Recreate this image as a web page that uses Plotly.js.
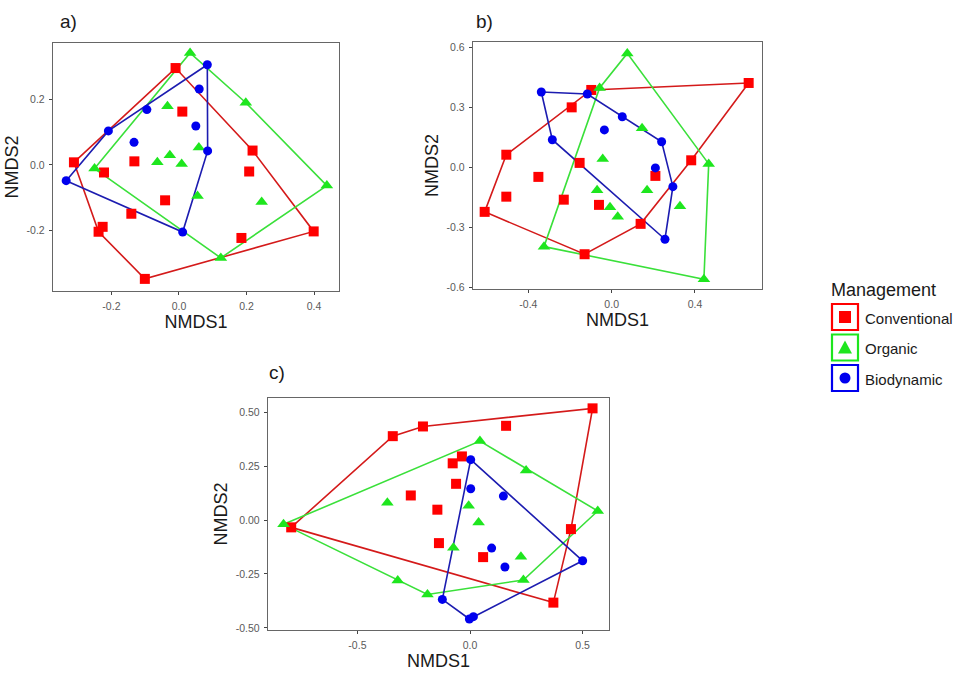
<!DOCTYPE html>
<html>
<head>
<meta charset="utf-8">
<script src="https://cdn.plot.ly/plotly-3.0.1.min.js"></script>
<style>html,body{margin:0;padding:0;background:#fff;}#chart{width:958px;height:673px;}</style>
</head>
<body>
<div id="chart"></div>
<script>
// ---------- Data (NMDS scores) ----------
// Panel a
const aConvX = [-0.010, 0.010, -0.311, -0.222, -0.132, 0.218, 0.208, -0.041, -0.141, -0.226, -0.238, 0.185, 0.399, -0.101];
const aConvY = [0.296, 0.163, 0.008, -0.023, 0.011, 0.044, -0.020, -0.108, -0.149, -0.189, -0.204, -0.223, -0.203, -0.348];
const aOrgX  = [0.033, 0.198, -0.034, 0.059, -0.027, -0.064, 0.008, -0.250, 0.438, 0.055, 0.245, 0.124];
const aOrgY  = [0.342, 0.190, 0.179, 0.053, 0.030, 0.008, 0.003, -0.011, -0.063, -0.095, -0.113, -0.284];
const aBioX  = [0.084, 0.060, -0.095, 0.050, -0.209, -0.133, 0.085, -0.334, 0.011];
const aBioY  = [0.306, 0.232, 0.169, 0.119, 0.104, 0.069, 0.043, -0.048, -0.205];
// Panel b
const bConvX = [0.658, -0.098, -0.192, -0.506, -0.352, -0.506, -0.154, -0.230, -0.061, 0.210, 0.382, -0.610, 0.139, -0.130];
const bConvY = [0.422, 0.387, 0.300, 0.063, -0.048, -0.147, 0.022, -0.162, -0.188, -0.043, 0.035, -0.223, -0.283, -0.435];
const bOrgX  = [0.075, -0.058, 0.146, -0.043, 0.466, -0.070, 0.170, -0.008, 0.029, 0.328, -0.325, 0.443];
const bOrgY  = [0.570, 0.397, 0.195, 0.042, 0.017, -0.115, -0.115, -0.200, -0.248, -0.195, -0.397, -0.560];
const bBioX  = [-0.338, -0.117, 0.051, -0.035, -0.285, 0.240, 0.210, 0.294, 0.256];
const bBioY  = [0.377, 0.367, 0.253, 0.187, 0.138, 0.128, -0.003, -0.097, -0.360];
// Panel c
const cConvX = [0.544, -0.343, -0.209, 0.160, -0.036, -0.077, -0.062, -0.263, -0.145, -0.138, 0.058, -0.794, 0.448, 0.370];
const cConvY = [0.518, 0.389, 0.434, 0.437, 0.295, 0.263, 0.168, 0.114, 0.048, -0.107, -0.172, -0.034, -0.042, -0.383];
const cOrgX  = [0.044, 0.249, -0.367, -0.006, 0.038, -0.828, 0.567, -0.074, 0.226, -0.321, 0.237, -0.189];
const cOrgY  = [0.366, 0.230, 0.080, 0.066, -0.011, -0.020, 0.042, -0.128, -0.170, -0.280, -0.278, -0.345];
const cBioX  = [0.003, 0.003, 0.148, 0.096, 0.155, 0.500, -0.123, -0.003, 0.015];
const cBioY  = [0.280, 0.145, 0.111, -0.130, -0.218, -0.189, -0.368, -0.459, -0.448];

const groups = ["Conventional", "Organic", "Biodynamic"];
const panelLabels = ["a)", "b)", "c)"];
const aXTicks = [-0.2, 0.0, 0.2, 0.4];  const aXText = ["-0.2", "0.0", "0.2", "0.4"];
const aYTicks = [-0.2, 0.0, 0.2];       const aYText = ["-0.2", "0.0", "0.2"];
const bXTicks = [-0.4, 0.0, 0.4];       const bXText = ["-0.4", "0.0", "0.4"];
const bYTicks = [-0.6, -0.3, 0.0, 0.3, 0.6]; const bYText = ["-0.6", "-0.3", "0.0", "0.3", "0.6"];
const cXTicks = [-0.5, 0.0, 0.5];       const cXText = ["-0.5", "0.0", "0.5"];
const cYTicks = [-0.5, -0.25, 0.0, 0.25, 0.5]; const cYText = ["-0.50", "-0.25", "0.00", "0.25", "0.50"];

// ---------- Styles ----------
const W = 958, H = 673;
const markerCol = {Conventional: "#ff0000", Organic: "#1ee61e", Biodynamic: "#0000ee"};
const lineCol   = {Conventional: "#d41a1a", Organic: "#3ae03a", Biodynamic: "#1c1cb0"};
const symbol    = {Conventional: "square", Organic: "triangle-up", Biodynamic: "circle"};
const msize     = {Conventional: 10, Organic: 11, Biodynamic: 9};

function convexHull(xs, ys) {
  const pts = xs.map((x, i) => [x, ys[i]]).sort((p, q) => p[0] - q[0] || p[1] - q[1]);
  const cross = (o, a, b) => (a[0]-o[0])*(b[1]-o[1]) - (a[1]-o[1])*(b[0]-o[0]);
  const lower = [], upper = [];
  for (const p of pts) { while (lower.length >= 2 && cross(lower[lower.length-2], lower[lower.length-1], p) <= 0) lower.pop(); lower.push(p); }
  for (let i = pts.length - 1; i >= 0; i--) { const p = pts[i]; while (upper.length >= 2 && cross(upper[upper.length-2], upper[upper.length-1], p) <= 0) upper.pop(); upper.push(p); }
  upper.pop(); lower.pop();
  const h = lower.concat(upper); h.push(h[0]);
  return {x: h.map(p => p[0]), y: h.map(p => p[1])};
}

const panels = [
  {data: [[aConvX, aConvY], [aOrgX, aOrgY], [aBioX, aBioY]], xa: "x",  ya: "y"},
  {data: [[bConvX, bConvY], [bOrgX, bOrgY], [bBioX, bBioY]], xa: "x2", ya: "y2"},
  {data: [[cConvX, cConvY], [cOrgX, cOrgY], [cBioX, cBioY]], xa: "x3", ya: "y3"}
];

const traces = [];
panels.forEach(p => {
  p.data.forEach((d, gi) => {
    const g = groups[gi], h = convexHull(d[0], d[1]);
    traces.push({type: "scatter", mode: "lines", x: h.x, y: h.y, xaxis: p.xa, yaxis: p.ya,
      line: {color: lineCol[g], width: 1.6}, hoverinfo: "skip", showlegend: false});
  });
  p.data.forEach((d, gi) => {
    const g = groups[gi];
    traces.push({type: "scatter", mode: "markers", name: g, x: d[0], y: d[1], xaxis: p.xa, yaxis: p.ya,
      marker: {symbol: symbol[g], size: msize[g], color: markerCol[g], line: {width: 0}}, showlegend: false});
  });
});

const tickFont = {family: "Liberation Sans, Arial, sans-serif", size: 10.5, color: "#5a5a5a"};
const titleFont = {family: "Liberation Sans, Arial, sans-serif", size: 18, color: "#1a1a1a"};
function ax(domain, range, tv, tt, title, anchor) {
  return {domain: domain, range: range, tickvals: tv, ticktext: tt, anchor: anchor,
    showgrid: false, zeroline: false, showline: true, mirror: true, linecolor: "#666", linewidth: 1.2,
    ticks: "outside", ticklen: 3, tickwidth: 1, tickcolor: "#444", tickfont: tickFont, ticklabelstandoff: 2,
    title: {text: title, font: titleFont, standoff: 3}, fixedrange: true};
}
const px = v => v / W, py = v => 1 - v / H;

const layout = {
  width: W, height: H, margin: {l: 0, r: 0, t: 0, b: 0},
  paper_bgcolor: "#fff", plot_bgcolor: "#fff", showlegend: false,
  xaxis:  ax([px(53), px(339)], [-0.373, 0.474], aXTicks, aXText, "NMDS1", "y"),
  yaxis:  ax([py(291), py(43)], [-0.385, 0.3725], aYTicks, aYText, "NMDS2", "x"),
  xaxis2: ax([px(473), px(762)], [-0.666, 0.722], bXTicks, bXText, "NMDS1", "y2"),
  yaxis2: ax([py(289), py(42)], [-0.609, 0.627], bYTicks, bYText, "NMDS2", "x2"),
  xaxis3: ax([px(268), px(609)], [-0.897, 0.617], cXTicks, cXText, "NMDS1", "y3"),
  yaxis3: ax([py(630), py(398)], [-0.510, 0.566], cYTicks, cYText, "NMDS2", "x3"),
  annotations: [], shapes: []
};

const labelFont = {family: "Liberation Sans, Arial, sans-serif", size: 19, color: "#1a1a1a"};
[[68, 21], [485, 21], [277, 372]].forEach((p, i) => {
  layout.annotations.push({xref: "paper", yref: "paper", x: px(p[0]), y: py(p[1]), text: panelLabels[i],
    showarrow: false, xanchor: "center", yanchor: "middle", font: labelFont});
});

// Legend (drawn manually to mimic ggplot keys)
layout.annotations.push({xref: "paper", yref: "paper", x: px(829), y: py(290), text: "Management",
  showarrow: false, xanchor: "left", yanchor: "middle",
  font: {family: "Liberation Sans, Arial, sans-serif", size: 18, color: "#1a1a1a"}});
groups.forEach((g, i) => {
  const cy = 317 + i * 30.5, x0 = 832, x1 = 858;
  layout.shapes.push({type: "rect", xref: "paper", yref: "paper", x0: px(x0), x1: px(x1), y0: py(cy + 13), y1: py(cy - 13),
    line: {color: markerCol[g], width: 2.2}, fillcolor: "rgba(0,0,0,0)"});
  const cx = 845;
  if (g === "Conventional") {
    layout.shapes.push({type: "rect", xref: "paper", yref: "paper", x0: px(cx - 6), x1: px(cx + 6), y0: py(cy + 6), y1: py(cy - 6),
      line: {width: 0}, fillcolor: markerCol[g]});
  } else if (g === "Organic") {
    layout.shapes.push({type: "path", xref: "paper", yref: "paper",
      path: `M ${px(cx - 7)} ${py(cy + 6)} L ${px(cx + 7)} ${py(cy + 6)} L ${px(cx)} ${py(cy - 7)} Z`,
      line: {width: 0}, fillcolor: markerCol[g]});
  } else {
    layout.shapes.push({type: "circle", xref: "paper", yref: "paper", x0: px(cx - 5.5), x1: px(cx + 5.5), y0: py(cy + 5.5), y1: py(cy - 5.5),
      line: {width: 0}, fillcolor: markerCol[g]});
  }
  layout.annotations.push({xref: "paper", yref: "paper", x: px(863), y: py(cy + 1), text: g,
    showarrow: false, xanchor: "left", yanchor: "middle",
    font: {family: "Liberation Sans, Arial, sans-serif", size: 15, color: "#1a1a1a"}});
});

Plotly.newPlot("chart", traces, layout, {displayModeBar: false, staticPlot: true});
</script>
</body>
</html>
